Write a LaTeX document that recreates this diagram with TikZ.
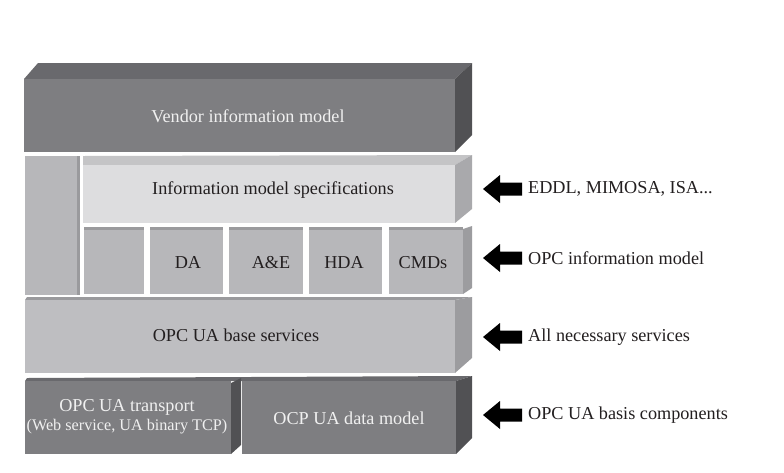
\documentclass[tikz,border=0pt]{standalone}
\usepackage{fontspec}
\setmainfont{Liberation Serif}
\begin{document}
\begin{tikzpicture}[x=1pt,y=-1pt,
  darkfront/.style={fill=dkF},
  darktop/.style={fill=dkT},
  darkside/.style={fill=dkS},
  lbl/.style={font=\fontsize{18.2}{21}\selectfont, text=txt, inner sep=0pt},
  wlbl/.style={font=\fontsize{18.2}{21}\selectfont, text=white!94!black, inner sep=0pt, align=center},
  bigarrow/.style={fill=black}
]
\definecolor{dkF}{HTML}{7E7E81}
\definecolor{dkT}{HTML}{69696D}
\definecolor{dkS}{HTML}{515154}
\definecolor{ltF}{HTML}{DDDDDF}
\definecolor{ltT}{HTML}{C4C4C6}
\definecolor{ltS}{HTML}{A9A9AC}
\definecolor{mdF}{HTML}{B7B7BA}
\definecolor{mdT}{HTML}{9A9A9D}
\definecolor{mdS}{HTML}{9C9C9F}
\definecolor{bsF}{HTML}{BEBEC1}
\definecolor{txt}{HTML}{231F20}
\useasboundingbox (0,0) rectangle (784,472);
\fill[white] (0,0) rectangle (784,472);

% Vendor information model
\fill[darktop] (24,79) -- (38,63) -- (472,63) -- (455,79) -- cycle;
\fill[darkside] (455,79) -- (472,63) -- (472,135) -- (455,152) -- cycle;
\fill[darkfront] (24,79) rectangle (455,152);
\node[wlbl] (vendor) at (248,116) {Vendor information model};

% left column
\fill[mdF] (25,156) rectangle (79,295);
\fill[mdT] (77,156) rectangle (80,295);

% Information model specifications
\fill[ltT] (83,156) -- (472,155) -- (455,165) -- (83,165) -- cycle;
\fill[ltS] (455,165) -- (472,155) -- (472,209) -- (455,223) -- cycle;
\fill[ltF] (83,165) rectangle (455,223);
\node[lbl] (spec) at (273,190) {Information model specifications};

% small boxes row
\foreach \a/\b in {84/144,150/223,229/303,309/382,389/463}{
  \fill[mdF] (\a,227) rectangle (\b,294);
  \fill[mdT] (\a,227) rectangle (\b,229.5);
}
\fill[mdS] (463,229) -- (472,226) -- (472,288) -- (463,294) -- cycle;
\node[lbl] (da) at (188,263) {DA};
\node[lbl] (ae) at (271,263) {A\&E};
\node[lbl] (hda) at (344,263) {HDA};
\node[lbl] (cmds) at (423,263) {CMDs};

% OPC UA base services
\fill[mdT] (25,300) -- (27,297) -- (472,297) -- (455,300) -- cycle;
\fill[mdS] (455,300) -- (472,297) -- (472,358) -- (455,373) -- cycle;
\fill[bsF] (25,300) rectangle (455,373);
\node[lbl] (base) at (236,335) {OPC UA base services};

% bottom row
\fill[darktop] (25,381) -- (27,378) -- (472,376) -- (456,381) -- cycle;
\fill[darkside] (231,383) -- (241,378) -- (241,445) -- (231,454) -- cycle;
\fill[darkfront] (25,381) rectangle (231,454);
\fill[darkside] (456,381) -- (472,376) -- (472,438) -- (456,454) -- cycle;
\fill[darkfront] (242,381) rectangle (456,454);
\node[wlbl] (transport) at (127,417) {OPC UA transport\\[-2pt]{\fontsize{16.2}{19}\selectfont(Web service, UA binary TCP)}};
\node[wlbl] (datamodel) at (349,418) {OCP UA data model};

% arrows and right labels
\foreach \y/\n/\t in {189/r1/{EDDL, MIMOSA, ISA...},258/r2/{OPC information model},337/r3/{All necessary services},415/r4/{OPC UA basis components}}{
  \fill[bigarrow] (483,\y) -- (500,\y-14) -- (500,\y-6.5) -- (522,\y-6.5) -- (522,\y+6.5) -- (500,\y+6.5) -- (500,\y+14) -- cycle;
  \node[lbl, anchor=west] (\n) at (528,\y) {\t};
}
\end{tikzpicture}
\end{document}
